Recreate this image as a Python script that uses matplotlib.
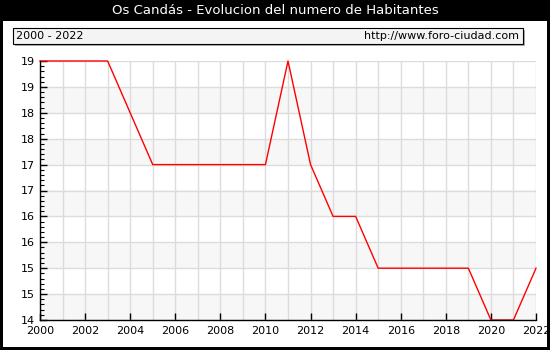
import matplotlib
matplotlib.use('Agg')
import matplotlib.pyplot as plt
from matplotlib.patches import Rectangle
from matplotlib.ticker import FuncFormatter, MultipleLocator
import numpy as np
import math

# Data
years = [2000, 2001, 2002, 2003, 2004, 2005, 2006, 2007, 2008, 2009, 2010, 2011,
         2012, 2013, 2014, 2015, 2016, 2017, 2018, 2019, 2020, 2021, 2022]
habitantes = [19, 19, 19, 19, 18, 17, 17, 17, 17, 17, 17, 19,
              17, 16, 16, 15, 15, 15, 15, 15, 14, 14, 15]
title = "Os Candás - Evolucion del numero de Habitantes"
period = "2000 - 2022"
source = "http://www.foro-ciudad.com"

W, H = 550, 350
fig = plt.figure(figsize=(W / 100, H / 100), dpi=100, facecolor='black')

# white page inside the black frame
fig.patches.append(Rectangle((3 / W, 3 / H), 544 / W, (H - 24) / H,
                             transform=fig.transFigure, facecolor='white',
                             edgecolor='none', zorder=-2))
fig.text(0.5, 1 - 11 / H, title, color='white', ha='center', va='center',
         fontsize=9.5, family='DejaVu Sans')

# header box with shadow
fig.patches.append(Rectangle((15 / W, (H - 46) / H), 510 / W, 16 / H,
                             transform=fig.transFigure, facecolor='#b0b0b0',
                             edgecolor='none', zorder=-1))
fig.patches.append(Rectangle((13 / W, (H - 44) / H), 510 / W, 16 / H,
                             transform=fig.transFigure, facecolor='#f4f4f4',
                             edgecolor='black', linewidth=0.8, zorder=-1))
fig.text(16 / W, 1 - 36 / H, period, ha='left', va='center', fontsize=8)
fig.text(519 / W, 1 - 36 / H, source, ha='right', va='center', fontsize=8)

ax = fig.add_axes([40 / W, 30 / H, 496 / W, 259 / H])
ax.set_zorder(5)
ax.set_xlim(2000, 2022)
ax.set_ylim(14, 19)
ax.set_facecolor('white')

# alternating bands
for lo in np.arange(14, 19, 1.0):
    ax.axhspan(lo, lo + 0.5, color='#f7f7f7', zorder=0, lw=0)

ax.xaxis.set_major_locator(MultipleLocator(2))
ax.xaxis.set_minor_locator(MultipleLocator(1))
ax.yaxis.set_major_locator(MultipleLocator(0.5))
ax.yaxis.set_minor_locator(MultipleLocator(0.1))
ax.yaxis.set_major_formatter(FuncFormatter(lambda v, p: str(int(math.floor(v + 0.5)))))
ax.grid(True, which='major', color='#dcdcdc', lw=1, zorder=1)
ax.grid(True, which='minor', axis='x', color='#dcdcdc', lw=1, zorder=1)
ax.set_axisbelow(True)

# line sits under the spines, like the original
ax.plot(years, habitantes, color='red', lw=1, zorder=2, clip_on=False)

ax.tick_params(direction='in', labelsize=8, length=5, width=1, color='black')
ax.tick_params(which='minor', direction='in', length=3, width=0.8)
ax.tick_params(axis='x', which='minor', length=0)
ax.tick_params(axis='x', pad=4)
for s in ['top', 'right']:
    ax.spines[s].set_visible(False)
for s in ['left', 'bottom']:
    ax.spines[s].set_linewidth(1)
    ax.spines[s].set_zorder(3)

fig.savefig('out.png', dpi=100, facecolor='black')
